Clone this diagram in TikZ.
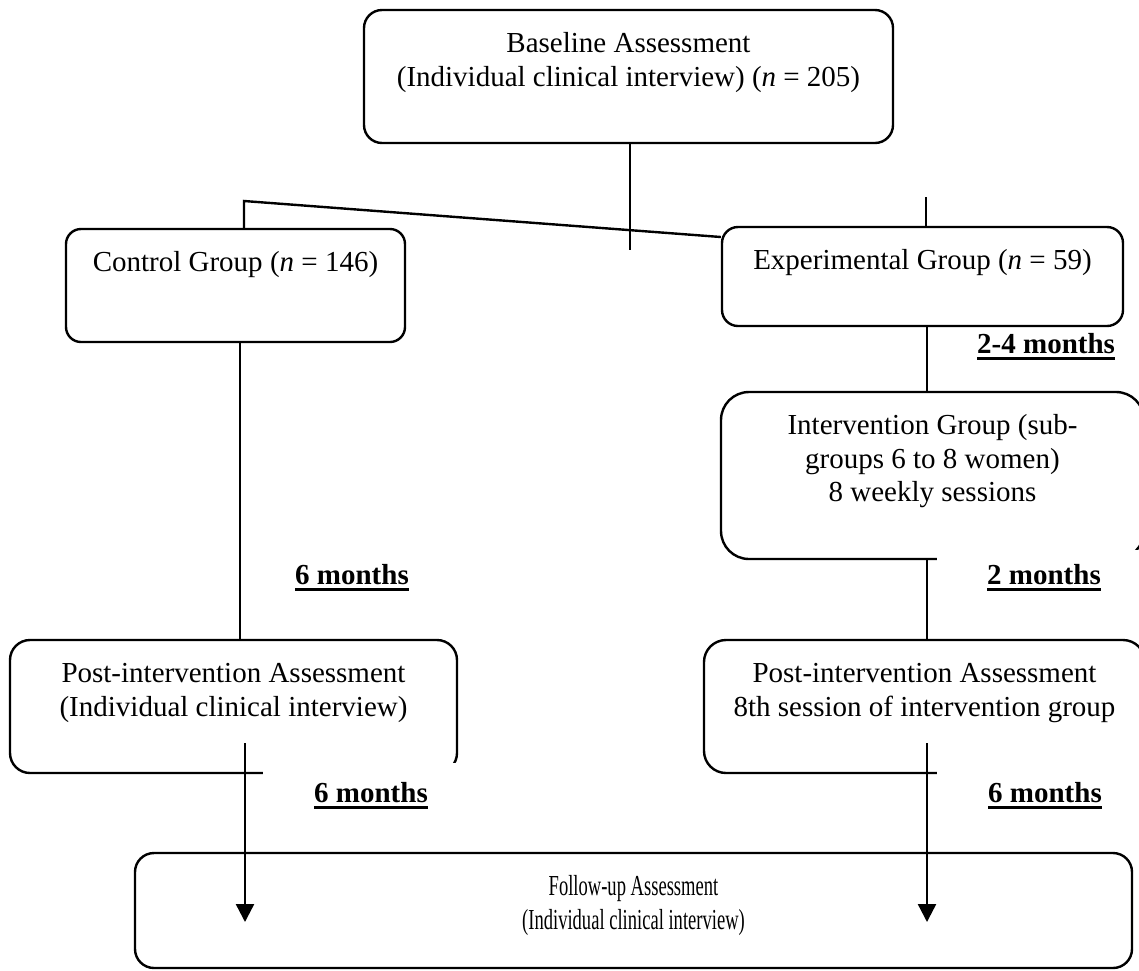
\documentclass[tikz,border=0pt]{standalone}
\usepackage{fontspec}
\setmainfont{Liberation Serif}
\usepackage{graphicx}
\usetikzlibrary{arrows.meta}
% box text: width, height, lines (set from the top of the box)
\newcommand\boxtext[3]{\parbox[c][#2pt][t]{#1pt}{\centering\vspace*{19.5pt}\strut #3}}
\newcommand\narrow[1]{\scalebox{0.64}[1]{#1}}
\begin{document}
\begin{tikzpicture}[x=1pt,y=-1pt,
  every node/.style={font=\fontsize{29}{33.5}\selectfont},
  box/.style={draw, line width=2.4pt, rectangle, inner sep=0pt, rounded corners=#1},
  conn/.style={line width=2.4pt},
  arr/.style={conn, -{Triangle[width=18pt,length=18pt]}},
  gap/.style={inner sep=0pt, font=\fontsize{29}{33.5}\selectfont\bfseries},
  uline/.style={line width=3pt}]
\useasboundingbox (0,0) rectangle (1139,970);

% boxes
\node[box=18pt] (base) at (628.5,76.5) {\boxtext{529}{133}{Baseline Assessment\\(Individual clinical interview) (\textit{n} = 205)}};
\node[box=15pt] (ctrl) at (235.5,285.5) {\boxtext{339}{113}{Control Group (\textit{n} = 146)}};
\node[box=16pt] (exp) at (922.5,276.5) {\boxtext{401}{99}{Experimental Group (\textit{n} = 59)}};
\node[box=28pt] (intv) at (932.5,475.5) {\boxtext{423}{167}{Intervention Group (sub-\\groups 6 to 8 women)\\8 weekly sessions}};
\node[box=20pt] (postL) at (233.5,706.5) {\boxtext{447}{133}{Post-intervention Assessment\\(Individual clinical interview)}};
\node[box=22pt] (postR) at (924.5,706.5) {\boxtext{441}{133}{Post-intervention Assessment\\8th session of intervention group}};
\node[box=19pt] (follow) at (633.5,910.5) {\boxtext{997}{115}{\narrow{Follow-up Assessment}\\\narrow{(Individual clinical interview)}}};

% connector reference points
\coordinate (c1) at (630,250);
\coordinate (k1) at (244,201);
\coordinate (c2) at (926,197);
\coordinate (rx) at (927,0);
\coordinate (lx) at (240,0);
\coordinate (a1) at (245,743);
\coordinate (t1) at (245,922);
\coordinate (a2) at (927,743);
\coordinate (t2) at (927,922);

% connectors
\draw[conn] (c1 |- base.south) -- (c1);
\draw[conn] (k1 |- ctrl.north) -- (k1) -- ([yshift=39.5pt]exp.west);
\draw[conn] (c2 |- exp.north) -- (c2);
\draw[conn] (rx |- exp.south) -- (rx |- intv.north);
\draw[conn] (rx |- intv.south) -- (rx |- postR.north);
\draw[conn] (lx |- ctrl.south) -- (lx |- postL.north);
\draw[arr] (a1) -- (t1);
\draw[arr] (a2) -- (t2);

% white label panels
\fill[white] (263,763) rectangle (470,848);
\fill[white] (937,550) rectangle (1150,600);
\fill[white] (937,763) rectangle (1150,848);

% interval labels
\node[gap, anchor=base west] (m24) at (977,353) {2-4 months};
\node[gap, anchor=base west] (m6a) at (295,584) {6 months};
\node[gap, anchor=base west] (m2) at (987,584) {2 months};
\node[gap, anchor=base west] (m6b) at (314,802) {6 months};
\node[gap, anchor=base west] (m6c) at (988,802) {6 months};
\foreach \m in {m24,m6a,m2,m6b,m6c}
  \draw[uline] ([yshift=-5pt]\m.base west) -- ([yshift=-5pt]\m.base east);
\end{tikzpicture}
\end{document}
